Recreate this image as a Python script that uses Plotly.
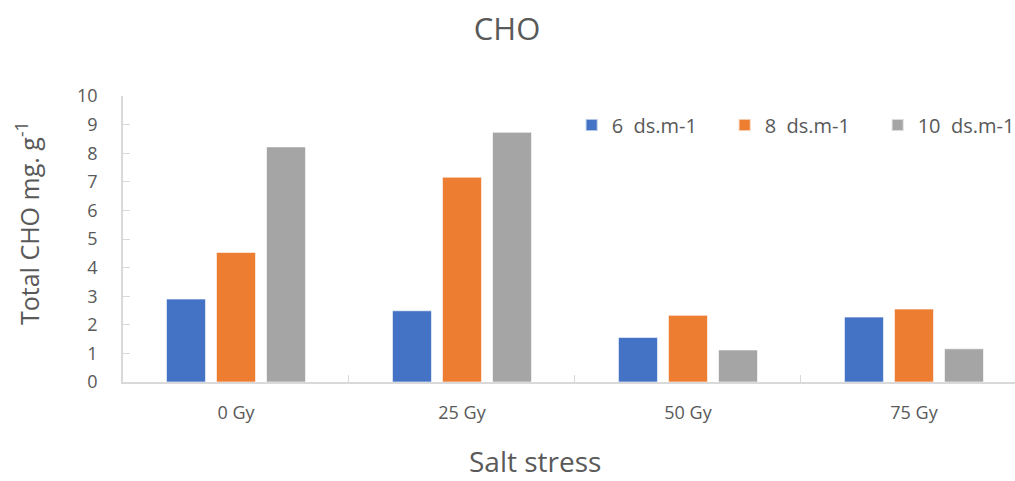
import plotly.graph_objects as go

# Total carbohydrate content by irradiation dose and salinity level
categories = ["0 Gy", "25 Gy", "50 Gy", "75 Gy"]
series_names = ["6  ds.m-1", "8  ds.m-1", "10  ds.m-1"]
cho_6 = [2.90, 2.49, 1.56, 2.27]
cho_8 = [4.53, 7.16, 2.33, 2.55]
cho_10 = [8.22, 8.73, 1.12, 1.16]
y_ticks = [0, 1, 2, 3, 4, 5, 6, 7, 8, 9, 10]

colors = ["#4472C4", "#ED7D31", "#A5A5A5"]
text_color = "#595959"
font_family = "Open Sans, Noto Sans, sans-serif"

fig = go.Figure()
for name, vals, col in zip(series_names, [cho_6, cho_8, cho_10], colors):
    fig.add_trace(go.Bar(
        x=categories, y=vals, name=name,
        marker=dict(color=col, line=dict(color="rgba(255,255,255,0.6)", width=1)),
    ))

fig.update_layout(
    width=1015, height=481,
    margin=dict(l=123, r=0, t=96, b=99, autoexpand=False),
    paper_bgcolor="white", plot_bgcolor="white",
    barmode="group", bargap=0.336, bargroupgap=0.22,
    font=dict(family=font_family, color=text_color, size=18),
    title=dict(text="CHO", x=507 / 1015, xref="container", xanchor="center",
               y=1 - 29 / 481, yref="container", yanchor="middle",
               font=dict(size=31, color=text_color)),
    showlegend=True,
    legend=dict(orientation="h", x=0.503, xanchor="left", y=0.899, yanchor="middle",
                font=dict(size=20, color=text_color), entrywidth=108,
                bgcolor="rgba(0,0,0,0)", itemsizing="constant"),
    xaxis=dict(
        type="category", range=[-0.5, 3.447],
        showline=True, linecolor="#D9D9D9", linewidth=1.5,
        ticks="inside", tickson="boundaries", ticklen=7, tickcolor="#D9D9D9",
        showgrid=False, tickfont=dict(size=18, color=text_color),
        ticklabelstandoff=14,
    ),
    yaxis=dict(
        range=[0, 10], tickvals=y_ticks, ticktext=[str(v) for v in y_ticks],
        showline=True, linecolor="#D9D9D9", linewidth=1.5,
        ticks="inside", ticklen=7, tickcolor="#D9D9D9",
        showgrid=False, zeroline=False, tickfont=dict(size=18, color=text_color),
        ticklabelstandoff=20,
    ),
    annotations=[
        dict(text="Total CHO mg. g<sup>-1</sup>", xref="paper", yref="paper",
             x=(27 - 123) / 892, y=(382 - 223) / 286, textangle=-90,
             xanchor="center", yanchor="middle", showarrow=False,
             font=dict(size=25, color=text_color)),
        dict(text="Salt stress", xref="paper", yref="paper",
             x=(535 - 123) / 892, y=(382 - 461) / 286,
             xanchor="center", yanchor="middle", showarrow=False,
             font=dict(size=28, color=text_color)),
    ],
)

fig.write_html("out.html")
